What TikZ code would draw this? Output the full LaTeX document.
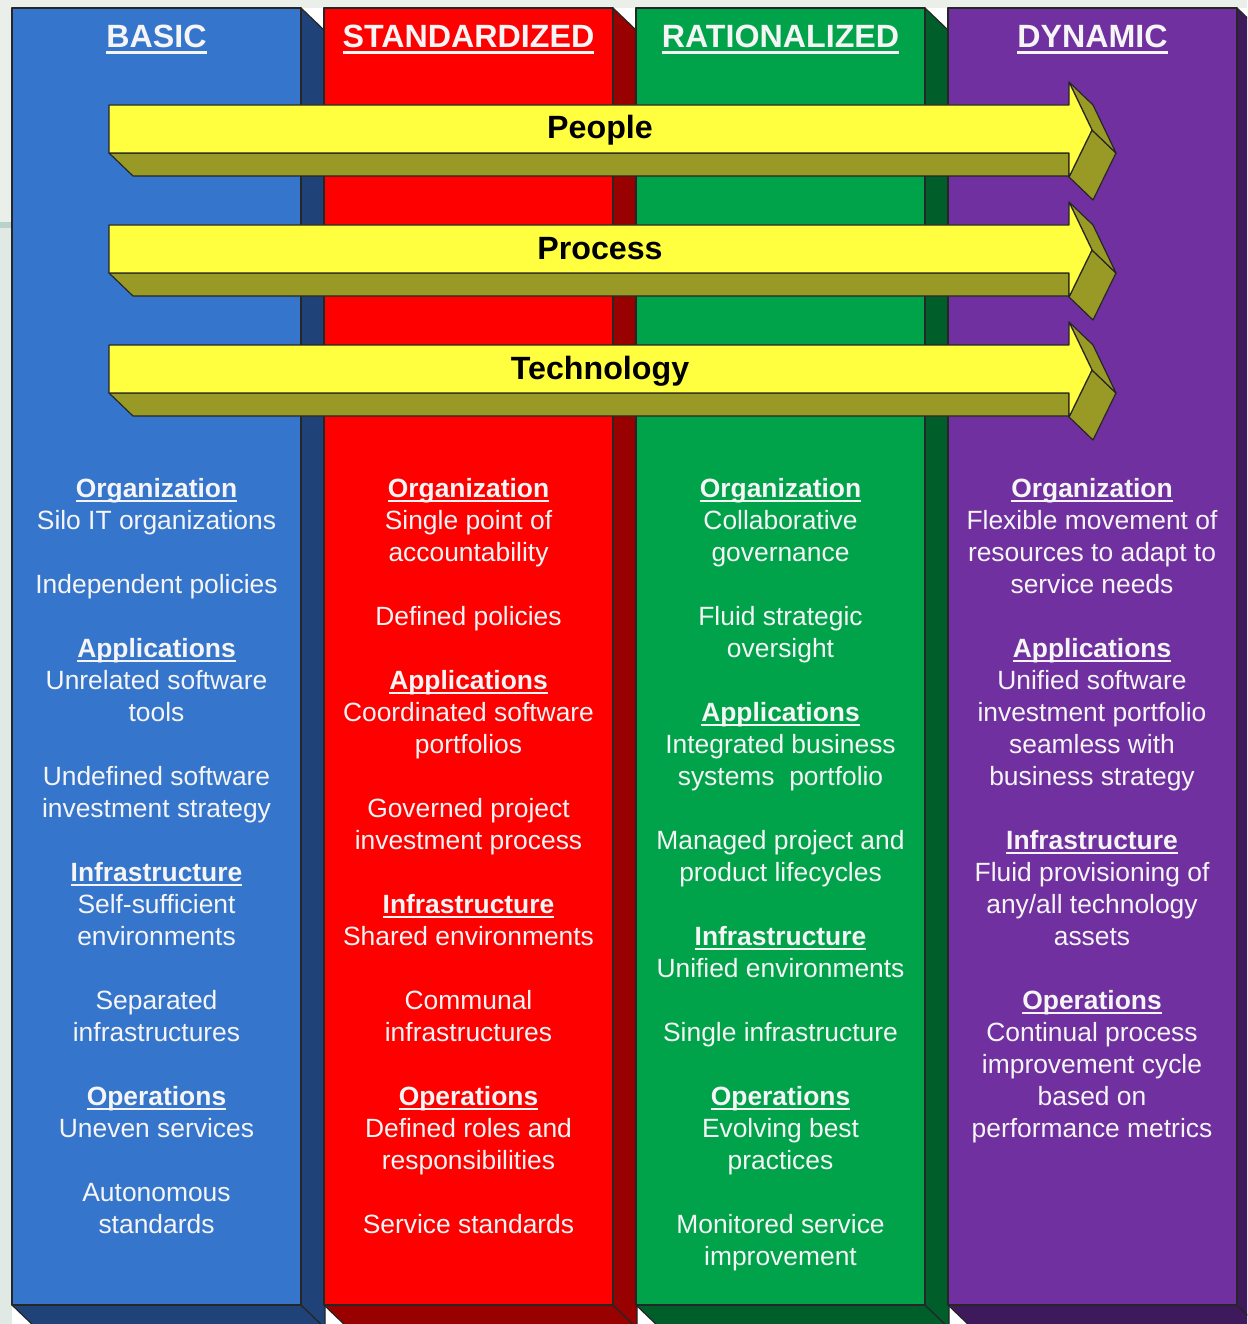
\documentclass[tikz,border=0pt]{standalone}
\usepackage{fontspec}
\setmainfont{Liberation Sans}
\definecolor{bgA}{HTML}{EAEFE9}
\definecolor{bgB}{HTML}{E1E9E4}
\definecolor{bgBand}{HTML}{B9D1CC}
\definecolor{cblue}{HTML}{3675CC}
\definecolor{cblueS}{HTML}{1F4378}
\definecolor{cred}{HTML}{FF0000}
\definecolor{credS}{HTML}{990000}
\definecolor{cgreen}{HTML}{00A34A}
\definecolor{cgreenS}{HTML}{005E2B}
\definecolor{cpurp}{HTML}{7030A0}
\definecolor{cpurpS}{HTML}{3E1A5C}
\definecolor{ayel}{HTML}{FFFF40}
\definecolor{aolive}{HTML}{999926}
\newsavebox\ulbox
\newcommand\myul[3]{\sbox\ulbox{#3}\rlap{\rule[#1]{\wd\ulbox}{#2}}\usebox\ulbox}
\newcommand\hd[1]{\myul{-4.8pt}{1.9pt}{\bfseries #1}}
\newcommand\bodycol[3]{%
  \foreach \k/\t in {#3} {\node[bodytxt] (#1-\k) at (#2,{497+32*\k}) {\t};}}
\begin{document}
\begin{tikzpicture}[x=1pt,y=-1pt,
  bodytxt/.style={font=\fontsize{26.4}{32}\selectfont, text=white!96!black, anchor=base, inner sep=0pt},
  hdrtxt/.style={font=\bfseries\fontsize{32.2}{36}\selectfont, text=white!96!black, anchor=base, inner sep=0pt},
  arrtxt/.style={font=\bfseries\fontsize{32.2}{36}\selectfont, text=black, anchor=base, inner sep=0pt},
  outl/.style={draw=black!85, line width=1.2pt, line join=round}]
\useasboundingbox (0,0) rectangle (1247,1324);
\clip (0,0) rectangle (1247,1324);
% backdrop
\fill[bgA] (0,0) rectangle (1247,1324);
\fill[bgB] (0,226) rectangle (12,1324);
\fill[bgBand] (0,222) rectangle (12,228);
\fill[white] (12,8) rectangle (1270,1340);
% columns
\foreach \i/\fc/\sc/\nm in {0/cblue/cblueS/BASIC,1/cred/credS/STANDARDIZED,2/cgreen/cgreenS/RATIONALIZED,3/cpurp/cpurpS/DYNAMIC}{
  \pgfmathsetmacro\xa{12+312*\i}
  \pgfmathsetmacro\xb{\xa+289}
  \pgfmathsetmacro\xc{\xa+313}
  \pgfmathsetmacro\xd{\xa+24}
  \pgfmathsetmacro\xm{\xa+144.5}
  \filldraw[fill=\sc, outl] (\xa,1305) -- (\xb,1305) -- (\xc,1328) -- (\xd,1328) -- cycle;
  \filldraw[fill=\sc, outl] (\xb,8) -- (\xc,31) -- (\xc,1328) -- (\xb,1305) -- cycle;
  \filldraw[fill=\fc, outl] (\xa,8) rectangle (\xb,1305);
  \node[hdrtxt] (hdr\i) at (\xm,48) {\myul{-5.6pt}{3pt}{\nm}};
}
% arrows
\foreach \j/\lab in {0/People,1/Process,2/Technology}{
  \pgfmathsetmacro\ya{105+120*\j}
  \filldraw[fill=aolive, outl] (109,\ya+48) -- (1069,\ya+48) -- (1069,\ya+71) -- (133,\ya+71) -- cycle;
  \filldraw[fill=aolive, outl] (1092,\ya+25) -- (1116,\ya+48) -- (1093,\ya+95) -- (1069,\ya+72) -- cycle;
  \filldraw[fill=aolive, outl] (1069,\ya-23) -- (1093,\ya) -- (1116,\ya+48) -- (1092,\ya+25) -- cycle;
  \filldraw[fill=ayel, outl] (109,\ya) -- (1069,\ya) -- (1069,\ya-23) -- (1092,\ya+25) -- (1069,\ya+72) -- (1069,\ya+48) -- (109,\ya+48) -- cycle;
  \node[arrtxt] (arr\j) at (600,\ya+34) {\lab};
}
% column texts
\bodycol{ba}{156.5}{0/\hd{Organization},1/Silo IT organizations,3/Independent policies,5/\hd{Applications},6/Unrelated software,7/tools,9/Undefined software,10/investment strategy,12/\hd{Infrastructure},13/Self-sufficient,14/environments,16/Separated,17/infrastructures,19/\hd{Operations},20/Uneven services,22/Autonomous,23/standards}
\bodycol{st}{468.5}{0/\hd{Organization},1/Single point of,2/accountability,4/Defined policies,6/\hd{Applications},7/Coordinated software,8/portfolios,10/Governed project,11/investment process,13/\hd{Infrastructure},14/Shared environments,16/Communal,17/infrastructures,19/\hd{Operations},20/Defined roles and,21/responsibilities,23/Service standards}
\bodycol{ra}{780.5}{0/\hd{Organization},1/Collaborative,2/governance,4/Fluid strategic,5/oversight,7/\hd{Applications},8/Integrated business,9/systems~~portfolio,11/Managed project and,12/product lifecycles,14/\hd{Infrastructure},15/Unified environments,17/Single infrastructure,19/\hd{Operations},20/Evolving best,21/practices,23/Monitored service,24/improvement}
\bodycol{dy}{1092}{0/\hd{Organization},1/Flexible movement of,2/resources to adapt to,3/service needs,5/\hd{Applications},6/Unified software,7/investment portfolio,8/seamless with,9/business strategy,11/\hd{Infrastructure},12/Fluid provisioning of,13/{any/all technology},14/assets,16/\hd{Operations},17/Continual process,18/improvement cycle,19/based on,20/performance metrics}
\end{tikzpicture}
\end{document}
